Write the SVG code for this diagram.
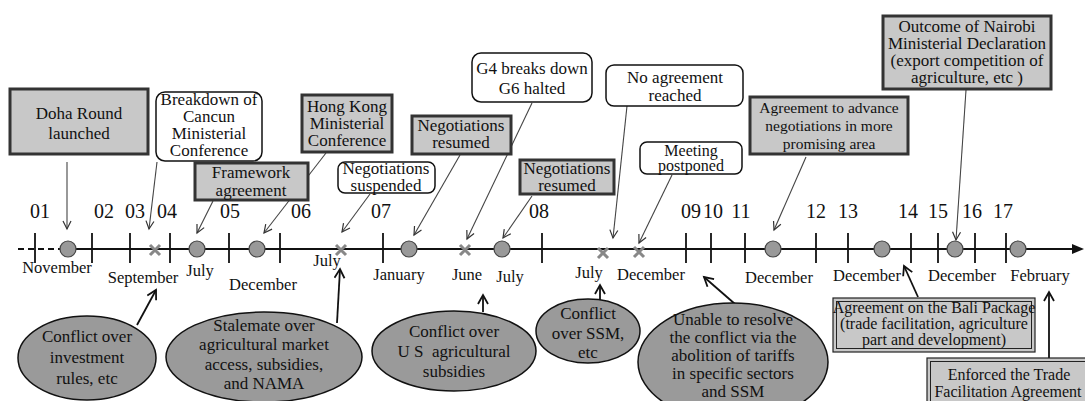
<svg xmlns="http://www.w3.org/2000/svg" width="1085" height="401" viewBox="0 0 1085 401" font-family="Liberation Serif, Tinos, DejaVu Serif, serif">
<defs>
<marker id="ah" markerUnits="userSpaceOnUse" markerWidth="12" markerHeight="12" refX="9" refY="5" orient="auto">
<path d="M1,1 L9,5 L1,9" fill="none" stroke="#333" stroke-width="1.2"/>
</marker>
<marker id="ahb" markerUnits="userSpaceOnUse" markerWidth="14" markerHeight="14" refX="10" refY="6" orient="auto">
<path d="M1,1 L10,6 L1,11" fill="none" stroke="#111" stroke-width="1.8"/>
</marker>
</defs>
<style>
text{font-family:'Liberation Serif',Tinos,'DejaVu Serif',serif;fill:#111;text-anchor:middle}
.t17{font-size:17px}
.t16{font-size:16px}
.t15{font-size:15.5px}
.yr{font-size:20px}
.mo{font-size:16.5px}
.gbox{fill:#c8c8c8;stroke:#333;stroke-width:3}
.wbox{fill:#fff;stroke:#111;stroke-width:1.5}
.dbox{fill:#c8c8c8;stroke:#222;stroke-width:1.2}
.ell{fill:#9a9a9a;stroke:#111;stroke-width:1.5}
.top{stroke:#444;stroke-width:1.1;fill:none;marker-end:url(#ah)}
.bot{stroke:#111;stroke-width:1.8;fill:none;marker-end:url(#ahb)}
.tick{stroke:#111;stroke-width:1.8}
.dot{fill:#999;stroke:#444;stroke-width:1.2}
.x{stroke:#888;stroke-width:3;fill:none}
</style>
<rect width="1085" height="401" fill="#fff"/>

<g id="timeline">
<line x1="18" y1="249" x2="60" y2="249" stroke="#111" stroke-width="2.2" stroke-dasharray="6,4"/>
<line x1="60" y1="249" x2="1074" y2="249" stroke="#111" stroke-width="2"/>
<polygon points="1072,244 1084,249 1072,254" fill="#111"/>
<g class="tick">
<line x1="35" y1="233" x2="35" y2="263"/><line x1="92" y1="233" x2="92" y2="263"/>
<line x1="130" y1="233" x2="130" y2="263"/><line x1="170" y1="233" x2="170" y2="263"/>
<line x1="229" y1="233" x2="229" y2="263"/><line x1="280" y1="233" x2="280" y2="263"/>
<line x1="383" y1="233" x2="383" y2="263"/><line x1="542" y1="233" x2="542" y2="263"/>
<line x1="686" y1="233" x2="686" y2="263"/><line x1="711" y1="233" x2="711" y2="263"/>
<line x1="745" y1="233" x2="745" y2="263"/><line x1="816" y1="233" x2="816" y2="263"/>
<line x1="848" y1="233" x2="848" y2="263"/><line x1="911" y1="233" x2="911" y2="263"/>
<line x1="938" y1="233" x2="938" y2="263"/><line x1="975" y1="233" x2="975" y2="263"/>
<line x1="1006" y1="233" x2="1006" y2="263"/>
</g>
<g class="yr">
<text x="40" y="218">01</text><text x="104" y="218">02</text><text x="135" y="218">03</text>
<text x="167" y="218">04</text><text x="230" y="218">05</text><text x="301" y="218">06</text>
<text x="381" y="218">07</text><text x="539" y="218">08</text><text x="691" y="218">09</text>
<text x="713" y="218">10</text><text x="741" y="218">11</text><text x="816" y="218">12</text>
<text x="848" y="218">13</text><text x="908" y="218">14</text><text x="938" y="218">15</text>
<text x="972" y="218">16</text><text x="1003" y="218">17</text>
</g>
<g class="mo">
<text x="57" y="273">November</text>
<text x="143" y="283">September</text>
<text x="200" y="276">July</text>
<text x="263" y="290">December</text>
<text x="327" y="266">July</text>
<text x="399" y="280">January</text>
<text x="467" y="280">June</text>
<text x="510" y="282">July</text>
<text x="589" y="278">July</text>
<text x="651" y="280">December</text>
<text x="779" y="283">December</text>
<text x="867" y="281">December</text>
<text x="962" y="281">December</text>
<text x="1040" y="281">February</text>
</g>
<g id="markers">
<circle class="dot" cx="68" cy="249" r="8"/>
<path class="x" d="M150,245 L160,255 M160,245 L150,255"/>
<circle class="dot" cx="197" cy="249" r="8"/>
<circle class="dot" cx="257" cy="249" r="8"/>
<path class="x" d="M336,245 L346,255 M346,245 L336,255"/>
<circle class="dot" cx="409" cy="249" r="8"/>
<path class="x" d="M460,245 L470,255 M470,245 L460,255"/>
<circle class="dot" cx="502" cy="249" r="8"/>
<path class="x" d="M598,248 L608,258 M608,248 L598,258"/>
<path class="x" d="M634,247 L644,257 M644,247 L634,257"/>
<circle class="dot" cx="773" cy="249" r="8"/>
<circle class="dot" cx="882" cy="249" r="8"/>
<circle class="dot" cx="955" cy="249" r="8"/>
<circle class="dot" cx="1018" cy="249" r="8"/>
</g>
</g>

<g id="connectors">
<line class="top" x1="67" y1="162" x2="67" y2="229"/>
<line class="top" x1="157" y1="162" x2="149" y2="229"/>
<line class="top" x1="213" y1="201" x2="197" y2="233"/>
<line class="top" x1="326" y1="153" x2="264" y2="233"/>
<line class="top" x1="370" y1="194" x2="342" y2="232"/>
<line class="top" x1="460" y1="155" x2="414" y2="235"/>
<line class="top" x1="532" y1="103" x2="467" y2="239"/>
<line class="top" x1="532" y1="196" x2="503" y2="238"/>
<line class="top" x1="627" y1="106" x2="613" y2="238"/>
<line class="top" x1="672" y1="175" x2="639" y2="243"/>
<line class="top" x1="806" y1="157" x2="774" y2="230"/>
<line class="top" x1="966" y1="90" x2="956" y2="240"/>
<line class="bot" x1="137" y1="325" x2="156" y2="290"/>
<line class="bot" x1="337" y1="323" x2="340" y2="269"/>
<line class="bot" x1="483" y1="312" x2="483" y2="295"/>
<line class="bot" x1="600" y1="300" x2="600" y2="285"/>
<line class="bot" x1="735" y1="304" x2="704" y2="277"/>
<line class="bot" x1="918" y1="297" x2="904" y2="266"/>
<line class="bot" x1="1049" y1="358" x2="1049" y2="292"/>
</g>

<g id="n-doha">
<rect class="gbox" x="10" y="89" width="138" height="65"/>
<text class="t17" x="79" y="119">Doha Round</text>
<text class="t17" x="79" y="139">launched</text>
</g>
<g id="n-cancun">
<rect class="wbox" x="156" y="92" width="106" height="69" rx="9"/>
<text class="t17" x="209" y="105">Breakdown of</text>
<text class="t17" x="209" y="122">Cancun</text>
<text class="t17" x="209" y="139">Ministerial</text>
<text class="t17" x="209" y="156">Conference</text>
</g>
<g id="n-framework">
<rect class="gbox" x="195" y="163" width="113" height="37"/>
<text class="t17" x="251" y="178">Framework</text>
<text class="t17" x="251" y="196">agreement</text>
</g>
<g id="n-hongkong">
<rect class="gbox" x="302" y="95" width="90" height="57"/>
<text class="t17" x="347" y="112">Hong Kong</text>
<text class="t17" x="347" y="129">Ministerial</text>
<text class="t17" x="347" y="146">Conference</text>
</g>
<g id="n-suspended">
<rect class="wbox" x="338" y="162" width="97" height="31" rx="7"/>
<text class="t17" x="386" y="174">Negotiations</text>
<text class="t17" x="386" y="191">suspended</text>
</g>
<g id="n-resumed1">
<rect class="gbox" x="412" y="116" width="99" height="38"/>
<text class="t17" x="461" y="131">Negotiations</text>
<text class="t17" x="461" y="148">resumed</text>
</g>
<g id="n-g4">
<rect class="wbox" x="472" y="53" width="120" height="49" rx="9"/>
<text class="t17" x="532" y="74">G4 breaks down</text>
<text class="t17" x="532" y="94">G6 halted</text>
</g>
<g id="n-resumed2">
<rect class="gbox" x="520" y="160" width="94" height="34"/>
<text class="t17" x="567" y="174">Negotiations</text>
<text class="t17" x="567" y="191">resumed</text>
</g>
<g id="n-noagreement">
<rect class="wbox" x="606" y="65" width="137" height="41" rx="8"/>
<text class="t17" x="675" y="83">No agreement</text>
<text class="t17" x="675" y="101">reached</text>
</g>
<g id="n-postponed">
<rect class="wbox" x="640" y="142" width="102" height="32" rx="7"/>
<text class="t16" x="691" y="156">Meeting</text>
<text class="t16" x="691" y="171">postponed</text>
</g>
<g id="n-advance">
<rect class="gbox" x="750" y="97" width="158" height="57"/>
<text class="t15" x="829" y="113">Agreement to advance</text>
<text class="t15" x="829" y="131">negotiations in more</text>
<text class="t15" x="829" y="149">promising area</text>
</g>
<g id="n-nairobi">
<rect class="gbox" x="883" y="16" width="168" height="73"/>
<text class="t17" x="967" y="32">Outcome of Nairobi</text>
<text class="t17" x="967" y="49">Ministerial Declaration</text>
<text class="t17" x="967" y="66">(export competition of</text>
<text class="t17" x="967" y="83">agriculture, etc )</text>
</g>

<g id="n-investment">
<ellipse class="ell" cx="87" cy="358" rx="69" ry="42"/>
<text class="t17" x="87" y="342">Conflict over</text>
<text class="t17" x="87" y="363">investment</text>
<text class="t17" x="87" y="384">rules, etc</text>
</g>
<g id="n-stalemate">
<ellipse class="ell" cx="264" cy="357" rx="98" ry="45"/>
<text class="t17" x="264" y="331">Stalemate over</text>
<text class="t17" x="264" y="350">agricultural market</text>
<text class="t17" x="264" y="370">access, subsidies,</text>
<text class="t17" x="264" y="389">and NAMA</text>
</g>
<g id="n-us">
<ellipse class="ell" cx="454" cy="351" rx="82" ry="40"/>
<text class="t17" x="454" y="337">Conflict over</text>
<text class="t17" x="454" y="357" xml:space="preserve">U S  agricultural</text>
<text class="t17" x="454" y="377">subsidies</text>
</g>
<g id="n-ssm">
<ellipse class="ell" cx="588" cy="331" rx="52" ry="32"/>
<text class="t17" x="588" y="319">Conflict</text>
<text class="t17" x="588" y="339">over SSM,</text>
<text class="t17" x="588" y="358">etc</text>
</g>
<g id="n-unable">
<ellipse class="ell" cx="733" cy="362" rx="95" ry="59"/>
<text class="t17" x="733" y="325">Unable to resolve</text>
<text class="t17" x="733" y="343">the conflict via the</text>
<text class="t17" x="733" y="361">abolition of tariffs</text>
<text class="t17" x="733" y="379">in specific sectors</text>
<text class="t17" x="733" y="397">and SSM</text>
</g>
<g id="n-bali">
<rect class="dbox" x="833" y="298" width="202" height="54" stroke-width="3"/>
<rect x="836.5" y="301.5" width="195" height="47" fill="none" stroke="#222" stroke-width="1"/>
<text class="t16" x="934" y="313">Agreement on the Bali Package</text>
<text class="t16" x="934" y="329">(trade facilitation, agriculture</text>
<text class="t16" x="934" y="345">part and development)</text>
</g>
<g id="n-enforced">
<rect class="dbox" x="927" y="358" width="162" height="50" stroke-width="3"/>
<rect x="930.5" y="361.5" width="160" height="45" fill="none" stroke="#222" stroke-width="1"/>
<text class="t16" x="1009" y="380">Enforced the Trade</text>
<text class="t16" x="1008" y="397">Facilitation Agreement</text>
</g>
</svg>
